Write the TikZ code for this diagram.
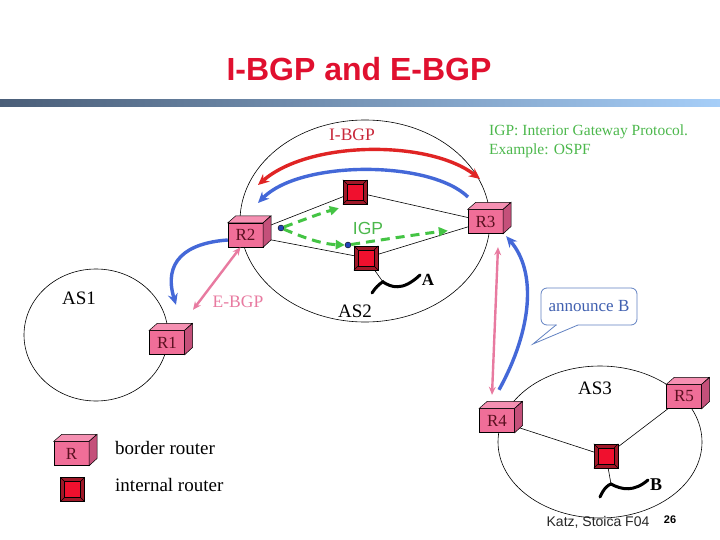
\documentclass[tikz,border=0pt]{standalone}
\usepackage{fontspec}
\setmainfont{Liberation Serif}
\newfontfamily\arialf{Liberation Sans}
\usetikzlibrary{arrows.meta,backgrounds,calc}
\definecolor{titlered}{HTML}{E0102F}
\definecolor{barleft}{HTML}{4A5E78}
\definecolor{barright}{HTML}{A6CEF8}
\definecolor{brfront}{HTML}{F06E98}
\definecolor{brtop}{HTML}{F590B2}
\definecolor{brside}{HTML}{C4507A}
\definecolor{brtext}{HTML}{5A1020}
\definecolor{irdark}{HTML}{A01828}
\definecolor{irred}{HTML}{F0102E}
\definecolor{arrred}{HTML}{E02424}
\definecolor{arrblue}{HTML}{4468D8}
\definecolor{arrgreen}{HTML}{44C444}
\definecolor{arrpink}{HTML}{E87AA0}
\definecolor{ibgpred}{HTML}{C8283A}
\definecolor{igpgreen}{HTML}{4CB84C}
\definecolor{calloutblue}{HTML}{6282C2}
\definecolor{callouttext}{HTML}{4060B0}
\definecolor{dotblue}{HTML}{2244B8}
\tikzset{
  brouter/.style={draw, fill=brfront, minimum width=35pt, minimum height=24pt, inner sep=0pt,
    text=brtext, font=\fontsize{17}{17}\selectfont},
  irouter/.style={draw, fill=irdark, minimum size=24pt, inner sep=0pt},
  asline/.style={draw, line width=0.6pt},
  link/.style={line width=0.6pt},
  thickarrow/.style={line width=3.4pt},
  bighead/.style={-{Stealth[length=11pt,width=10pt]}},
  pinkarrow/.style={draw=arrpink, line width=2.4pt, {Stealth[length=8pt,width=7pt]}-{Stealth[length=8pt,width=7pt]}},
  greendash/.style={draw=arrgreen, line width=3pt, dash pattern=on 9pt off 6pt, -{Triangle[length=9pt,width=9pt]}},
  bluedot/.style={circle, draw=black, fill=dotblue, minimum size=6pt, inner sep=0pt, line width=0.4pt},
  wave/.style={line width=3pt, line cap=round},
  lbl/.style={font=\fontsize{19}{22}\selectfont},
  callout/.style={draw=calloutblue, fill=white, rounded corners=6pt, minimum width=96pt, minimum height=37pt,
    text=callouttext, font=\fontsize{17}{20}\selectfont, inner sep=0pt, line width=0.8pt}
}
\newcommand\BRouter[3]{%
  \node[brouter] (#1) at (#2) {#3};
  \filldraw[fill=brtop, line width=0.5pt] (#1.north west) -- ++(8,-7) -- ++(35,0) -- (#1.north east) -- cycle;
  \filldraw[fill=brside, line width=0.5pt] (#1.north east) -- ++(8,-7) -- ++(0,24) -- (#1.south east) -- cycle;
}
\newcommand\IRouter[2]{%
  \node[irouter] (#1) at (#2) {};
  \draw[line width=0.4pt] (#1.north west) -- ++(4,4) (#1.north east) -- ++(-4,4)
       (#1.south west) -- ++(4,-4) (#1.south east) -- ++(-4,-4);
  \filldraw[fill=irred, line width=0.5pt] ($(#1.north west)+(4,4)$) rectangle ($(#1.south east)+(-4,-4)$);
}
\begin{document}
\begin{tikzpicture}[x=1pt,y=-1pt]
\useasboundingbox (0,0) rectangle (720,540);

% title and bar
\node[font=\arialf\bfseries\fontsize{32}{38}\selectfont, text=titlered] (title) at (359,69) {I-BGP and E-BGP};
\shade[left color=barleft, right color=barright] (0,100) rectangle (720,107);

% AS ellipses
\draw[asline] (365,221) ellipse [x radius=125, y radius=101];
\draw[asline] (96,335) ellipse [x radius=72, y radius=66];
\draw[asline] (600,442) ellipse [x radius=102, y radius=76];

% routers
\BRouter{R2}{245.5,235}{R2}
\BRouter{R3}{485.5,221.5}{R3}
\BRouter{R1}{167,342.5}{R1}
\BRouter{R4}{497,420.5}{R4}
\BRouter{R5}{684,396.5}{R5}
\BRouter{RL}{71.5,453.5}{R}
\IRouter{i1}{355,192}
\IRouter{i2}{366,258}
\IRouter{i3}{606,456}
\IRouter{iL}{72.5,489.5}

% wave end points
\coordinate (wa) at (383,282);
\coordinate (wb) at (611,484);

\begin{pgfonlayer}{background}
\fill[white] (0,0) rectangle (720,540);
\draw[link] (R2.center) -- (i1.center);
\draw[link] (R2.center) -- (i2.center);
\draw[link] (i1.center) -- (R3.center);
\draw[link] (i2.center) -- (R3.center);
\draw[link] (R4.center) -- (i3.center);
\draw[link] (R5.center) -- (i3.center);
\draw[link] (i2.center) -- (wa);
\draw[link] (i3.center) -- (wb);
\end{pgfonlayer}

% waves
\draw[wave] (372,293) .. controls (379,282) and (387,280) .. (wa) .. controls (391,287) and (402,292) .. (420,275);
\node[font=\bfseries\fontsize{17}{20}\selectfont] (A) at (428,280) {A};
\draw[wave] (600,497) .. controls (604,488) and (608,485) .. (wb) .. controls (622,490) and (634,492) .. (648,480);
\node[font=\bfseries\fontsize{18}{20}\selectfont] (B) at (656,485) {B};

% I-BGP arrows
\coordinate (ra1) at (480,179);
\coordinate (ra2) at (258,185);
\draw[draw=arrred, thickarrow, {Stealth[length=11pt,width=10pt]}-{Stealth[length=11pt,width=10pt]}]
  (ra2) .. controls (310,140) and (430,140) .. (ra1);
\coordinate (ba1) at (468,197);
\coordinate (ba2) at (258,203);
\draw[draw=arrblue, thickarrow, bighead] (ba1) .. controls (430,160) and (300,160) .. (ba2);
\node[text=ibgpred, font=\fontsize{17.5}{20}\selectfont] (ibgp) at (352,135) {I-BGP};

% IGP
\node[bluedot] (d1) at (281,228) {};
\node[bluedot] (d2) at (348,245) {};
\coordinate (g1) at ($(i1.south west)+(-4,4)$);
\coordinate (g3) at ($(R3.south west)+(-20,-3)$);
\draw[greendash] (d1) .. controls (298,222) and (318,214) .. (g1);
\draw[greendash] (d1) .. controls (300,236) and (320,244) .. (d2.west);
\draw[greendash] (d2) .. controls (380,240) and (420,234) .. (g3);
\node[text=igpgreen, font=\arialf\fontsize{17.5}{20}\selectfont] (igp) at (368,228) {IGP};
\node[text=igpgreen, font=\fontsize{15.5}{19}\selectfont, anchor=north west, align=left, inner sep=0pt] (igpnote) at (489,125)
  {IGP: Interior Gateway Protocol.\\Example: OSPF};

% E-BGP and R2 -> R1
\coordinate (b1) at ($(R1.north)+(9,-25.5)$);
\coordinate (p1a) at ($(R2.south)+(-5,0)$);
\coordinate (p1b) at ($(R1.north)+(26,-20.5)$);
\draw[draw=arrblue, thickarrow, bighead] ($(R2.west)+(0,5)$) .. controls (185,243) and (163,262) .. (b1);
\draw[pinkarrow] (p1a) -- (p1b);
\node[text=arrpink, font=\fontsize{17.5}{20}\selectfont] (ebgp) at (238,302) {E-BGP};

% AS2 <-> AS3
\coordinate (p2a) at ($(R3.south)+(12.5,13.5)$);
\coordinate (p2b) at ($(R4.north)+(-5,-13.5)$);
\coordinate (b2a) at ($(R4.north)+(2,-18.5)$);
\coordinate (b2b) at ($(R3.south east)+(3,2.5)$);
\draw[pinkarrow] (p2a) -- (p2b);
\draw[draw=arrblue, thickarrow, bighead] (b2a) .. controls (532,330) and (537,272) .. (b2b);

% callout
\node[callout] (cb) at (589,306.5) {announce B};
\fill[white] (556.5,323) rectangle (577.5,327);
\draw[draw=calloutblue, line width=0.8pt, line join=miter] (556,325) -- (533,344) -- (578,325);

% AS labels
\node[lbl] (as1) at (79,298) {AS1};
\node[lbl] (as2) at (355,311) {AS2};
\node[lbl] (as3) at (595,388) {AS3};

% legend
\node[lbl, anchor=west, inner sep=0pt] (lg1) at (115,448) {border router};
\node[lbl, anchor=west, inner sep=0pt] (lg2) at (115,485) {internal router};

% footer
\node[font=\arialf\fontsize{14}{16}\selectfont, text=black!85] (foot) at (598,522) {Katz, Stoica F04};
\node[font=\arialf\bfseries\fontsize{11}{13}\selectfont] (pg) at (670,520) {26};
\end{tikzpicture}
\end{document}
